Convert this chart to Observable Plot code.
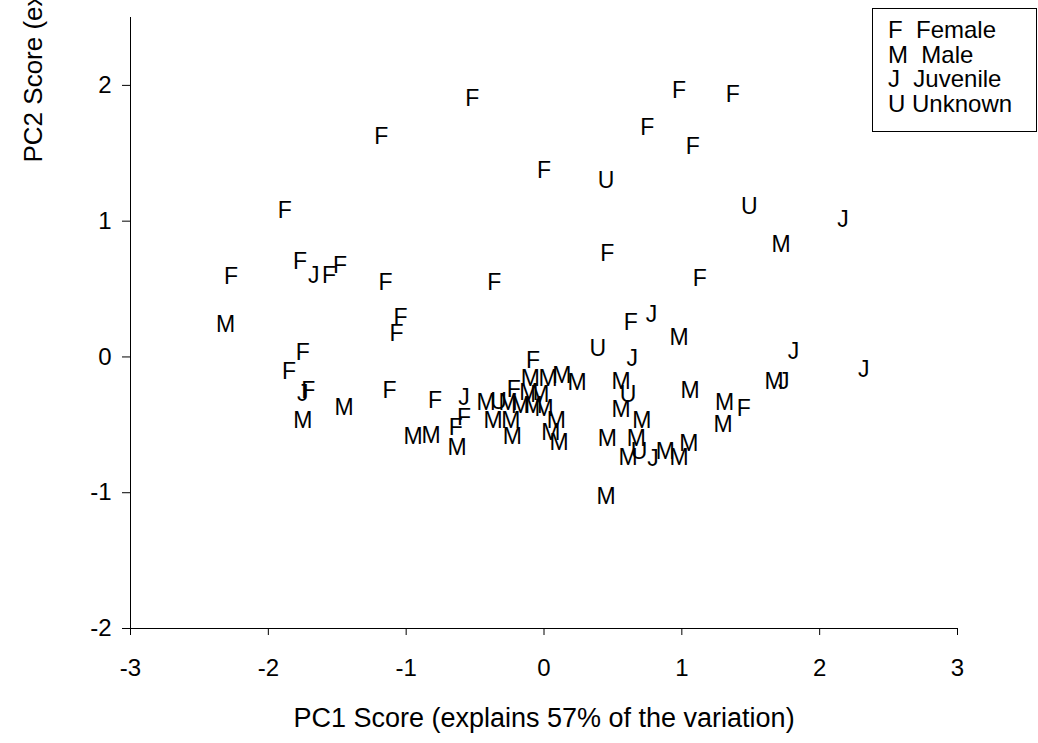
<!DOCTYPE html>
<html>
<head>
<meta charset="utf-8">
<script src="https://cdn.jsdelivr.net/npm/d3@7"></script>
<script src="https://cdn.jsdelivr.net/npm/@observablehq/plot@0.6"></script>
<style>
  html, body { margin: 0; padding: 0; background: #fff; }
  #wrap { position: relative; width: 1038px; height: 743px; overflow: hidden; font-family: "Liberation Sans", Arial, sans-serif; }
  #legend { position: absolute; left: 872px; top: 8px; width: 165px; height: 124px; border: 1px solid #000; background: #fff; padding: 9px 0 0 0; box-sizing: border-box; }
  #legend div { white-space: pre; font-size: 24px; line-height: 24.5px; padding-left: 15px; color: #000; }
</style>
</head>
<body>
<div id="wrap"></div>
<script>
// Group letter for each specimen
const groups = [
  "F","F","F","F","F","F","F","U","F","U",
  "J","M","F","F","F","J","F","F","F","F",
  "F","M","F","F","J","F","M","U","J","J",
  "J","F","F","J","F","M","M","F","F","J",
  "M","M","F","F","M","F","M","M","M","M",
  "F","M","U","M","M","M","M","M","M","M",
  "M","M","M","M","U","M","M","M","M","M",
  "M","U","J","M","M","M","M","J","M","F",
  "M","M","M","M"
];
// PC1 scores
const pc1 = [
  -0.52, 0.98, 1.37, 0.75, 1.08, -1.18, 0.00, 0.45, -1.88, 1.49,
  2.17, 1.72, 0.46, -2.27, -1.77, -1.67, -1.56, -1.48, -1.15, -0.36,
  1.13, -2.31, -1.04, -1.07, 0.78, 0.63, 0.98, 0.39, 0.64, 1.81,
  2.32, -1.75, -1.85, -1.75, -1.71, -1.75, -1.45, -1.12, -0.79, -0.58,
  -0.95, -0.82, -0.64, -0.58, -0.63, -0.08, -0.10, 0.03, 0.13, 0.24,
  -0.22, -0.42, -0.33, -0.26, -0.17, -0.08, 0.00, 0.09, -0.37, -0.24,
  -0.23, 0.05, 0.11, 0.56, 0.61, 0.56, 0.71, 0.46, 0.67, 1.05,
  0.61, 0.69, 0.79, 0.88, 0.98, 1.06, 1.67, 1.74, 1.31, 1.45,
  1.30, 0.45, -0.11, -0.03
];
// PC2 scores
const pc2 = [
  1.90, 1.96, 1.93, 1.69, 1.55, 1.62, 1.37, 1.30, 1.08, 1.11,
  1.01, 0.83, 0.76, 0.59, 0.70, 0.60, 0.60, 0.67, 0.55, 0.55,
  0.58, 0.24, 0.29, 0.17, 0.31, 0.25, 0.14, 0.06, -0.01, 0.04,
  -0.09, 0.03, -0.11, -0.27, -0.25, -0.47, -0.37, -0.25, -0.32, -0.30,
  -0.59, -0.58, -0.52, -0.45, -0.67, -0.03, -0.16, -0.16, -0.14, -0.19,
  -0.24, -0.34, -0.33, -0.34, -0.36, -0.36, -0.38, -0.47, -0.47, -0.47,
  -0.59, -0.56, -0.63, -0.18, -0.28, -0.39, -0.47, -0.60, -0.60, -0.64,
  -0.74, -0.70, -0.75, -0.70, -0.74, -0.25, -0.18, -0.18, -0.34, -0.38,
  -0.50, -1.03, -0.26, -0.28
];
const xTicks = [-3, -2, -1, 0, 1, 2, 3];
const yTicks = [-2, -1, 0, 1, 2];
const legendCodes = ["F", "M", "J", "U"];
const legendNames = ["Female", "Male", "Juvenile", "Unknown"];
const legendGaps = ["  ", "  ", "  ", " "];
const xTitle = "PC1 Score (explains 57% of the variation)";
const yTitle = "PC2 Score (ex";

const data = groups.map((g, i) => ({g, x: pc1[i], y: pc2[i]}));

const chart = Plot.plot({
  width: 1038,
  height: 743,
  marginLeft: 130,
  marginRight: 81,
  marginTop: 17,
  marginBottom: 115,
  style: {fontFamily: "'Liberation Sans', Arial, sans-serif", color: "#000", background: "#fff", overflow: "visible"},
  x: {domain: [-3, 3]},
  y: {domain: [-2, 2.5]},
  marks: [
    Plot.ruleX([-3], {stroke: "#000", strokeWidth: 1}),
    Plot.ruleY([-2], {stroke: "#000", strokeWidth: 1}),
    Plot.axisX({ticks: xTicks, tickSize: 7, tickPadding: 23, fontSize: 24, label: null, tickFormat: d => String(d)}),
    Plot.axisY({ticks: yTicks, tickSize: 8, tickPadding: 11, fontSize: 24, label: null, tickFormat: d => String(d)}),
    Plot.text(data, {x: "x", y: "y", text: "g", fontSize: 23, fill: "#000", textAnchor: "middle", lineAnchor: "middle"}),
    Plot.text([xTitle], {frameAnchor: "bottom", dy: 90, fontSize: 27, fill: "#000", lineAnchor: "middle", text: d => d}),
    Plot.text([yTitle], {frameAnchor: "top-left", dx: -97, dy: 145, rotate: -90, textAnchor: "start", lineAnchor: "middle", fontSize: 26, fill: "#000", text: d => d})
  ]
});

const wrap = document.getElementById("wrap");
wrap.appendChild(chart);
const legend = document.createElement("div");
legend.id = "legend";
legendCodes.forEach((c, i) => {
  const row = document.createElement("div");
  row.textContent = c + legendGaps[i] + legendNames[i];
  legend.appendChild(row);
});
wrap.appendChild(legend);
</script>
</body>
</html>
